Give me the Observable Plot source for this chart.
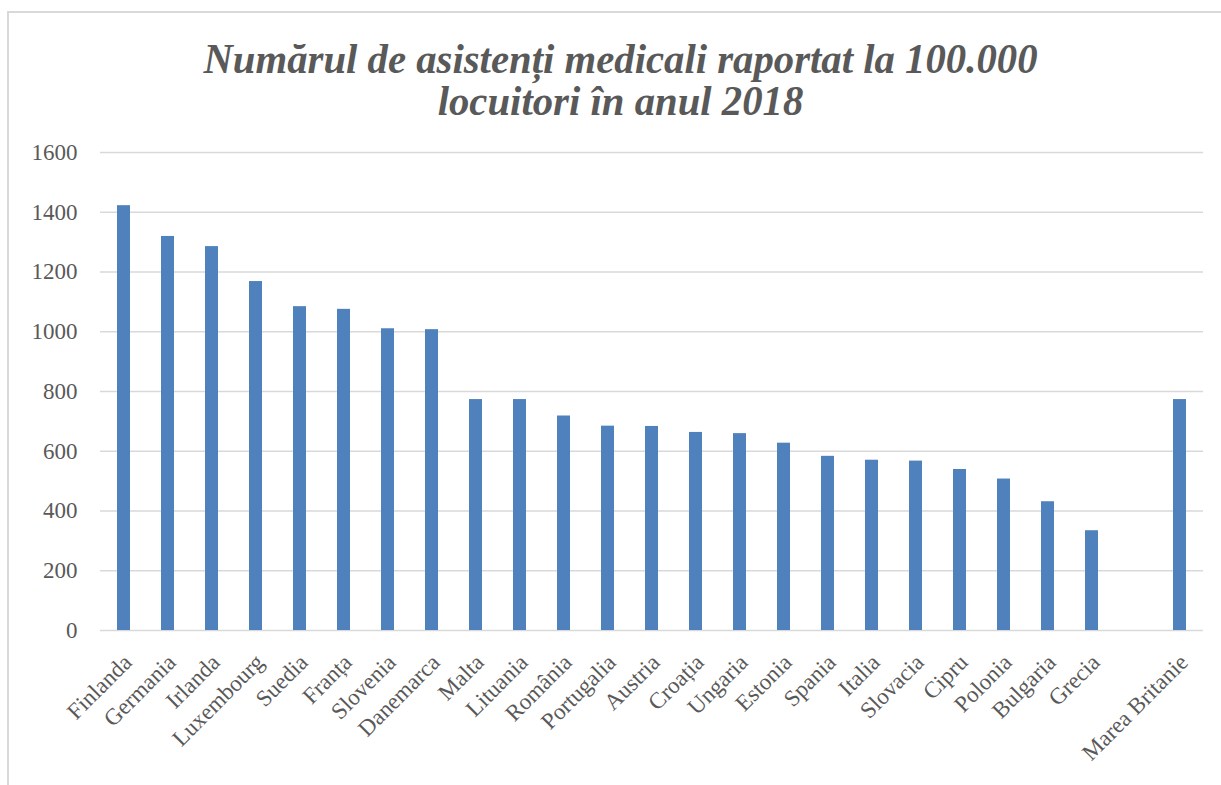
<!DOCTYPE html>
<html>
<head>
<meta charset="utf-8">
<script src="https://cdn.jsdelivr.net/npm/d3@7"></script>
<script src="https://cdn.jsdelivr.net/npm/@observablehq/plot@0.6"></script>
<style>
  html, body { margin: 0; padding: 0; background: #fff; }
  #wrap { position: relative; width: 1221px; height: 785px; overflow: hidden; background: #fff; }
  #frame { position: absolute; left: 7px; top: 11px; width: 1400px; height: 1000px;
           border-left: 2px solid #d9d9d9; border-top: 2px solid #d9d9d9; }
  .tl { position: absolute; left: 10px; width: 1221px; text-align: center;
        font-family: "Liberation Serif", serif; font-weight: bold; font-style: italic;
        font-size: 42px; line-height: 42px; color: #595959; white-space: nowrap;
        transform: scaleX(0.97); transform-origin: 610px 0; }
  #t1 { top: 38px; }
  #t2 { top: 80px; }
  #chart { position: absolute; left: 0; top: 135px; }
</style>
</head>
<body>
<div id="wrap">
  <div id="frame"></div>
  <div class="tl" id="t1">Numărul de asistenți medicali raportat la 100.000</div>
  <div class="tl" id="t2">locuitori în anul 2018</div>
  <div id="chart"></div>
</div>
<script>
const countries = ["Finlanda","Germania","Irlanda","Luxembourg","Suedia","Franța","Slovenia","Danemarca","Malta","Lituania","România","Portugalia","Austria","Croația","Ungaria","Estonia","Spania","Italia","Slovacia","Cipru","Polonia","Bulgaria","Grecia"," ","Marea Britanie"];
const values = [1422,1319,1285,1168,1084,1075,1010,1007,773,773,718,684,683,663,659,627,583,570,567,539,507,431,334,null,773];
const yTicks = [0,200,400,600,800,1000,1200,1400,1600];

const data = countries.map((c, i) => ({country: c, value: values[i]})).filter(d => d.value != null);

const chart = Plot.plot({
  width: 1221,
  height: 650,
  marginTop: 17,
  marginBottom: 155,
  marginLeft: 100,
  marginRight: 18,
  style: {fontFamily: "Liberation Serif, serif", fontSize: "23px", color: "#595959", background: "transparent", overflow: "visible"},
  x: {domain: countries, paddingInner: 0.7, paddingOuter: 0.35},
  y: {domain: [0, 1600]},
  marks: [
    Plot.ruleY(yTicks, {stroke: "#d9d9d9", strokeWidth: 1.5}),
    Plot.barY(data, {x: "country", y: "value", fill: "#4f81bd"}),
    Plot.axisX({tickRotate: -45, tickSize: 0, tickPadding: 28, dx: 4, label: null}),
    Plot.axisY({ticks: yTicks, tickFormat: d => String(d), tickSize: 0, tickPadding: 23, label: null})
  ]
});
document.getElementById("chart").appendChild(chart);
</script>
</body>
</html>
